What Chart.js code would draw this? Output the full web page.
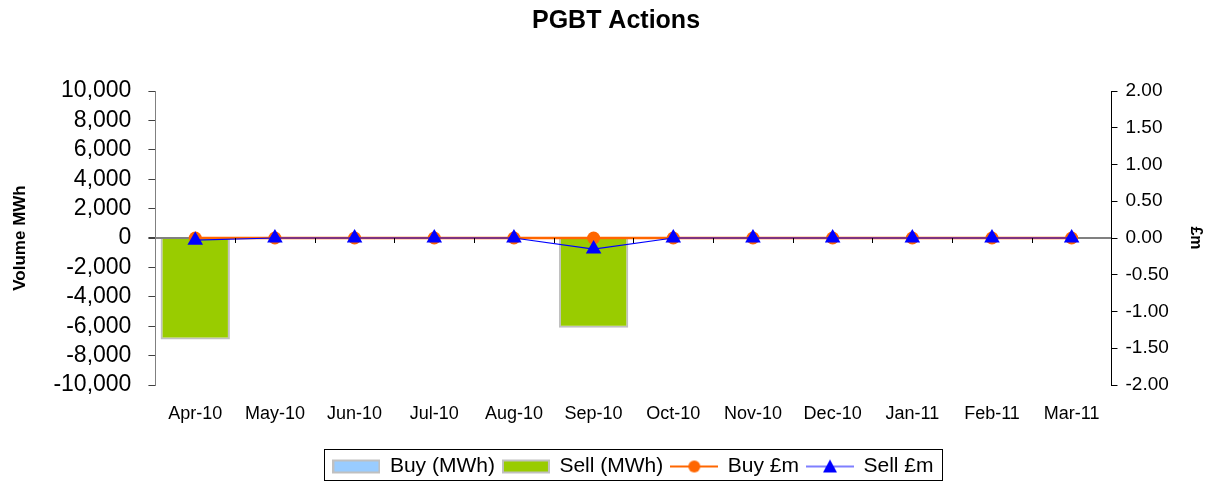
<!DOCTYPE html>
<html>
<head>
<meta charset="utf-8">
<script src="https://cdn.jsdelivr.net/npm/chart.js@4.4.1/dist/chart.umd.min.js"></script>
<style>
  html, body { margin: 0; padding: 0; background: #fff; }
  #wrap { width: 1220px; height: 483px; }
</style>
</head>
<body>
<div id="wrap"><canvas id="c" width="1220" height="483"></canvas></div>
<script>
const categories = ['Apr-10','May-10','Jun-10','Jul-10','Aug-10','Sep-10','Oct-10','Nov-10','Dec-10','Jan-11','Feb-11','Mar-11'];
const buyVolume  = [0, 0, 0, 0, 0, 0, 0, 0, 0, 0, 0, 0];
const sellVolume = [-6900, 0, 0, 0, 0, -6100, 0, 0, 0, 0, 0, 0];
const buyCost    = [0.00, 0.00, 0.00, 0.00, 0.00, 0.00, 0.00, 0.00, 0.00, 0.00, 0.00, 0.00];
const sellCost   = [-0.03, 0.00, 0.00, 0.00, 0.00, -0.15, 0.00, 0.00, 0.00, 0.00, 0.00, 0.00];
const volumeTicks = [-10000, -8000, -6000, -4000, -2000, 0, 2000, 4000, 6000, 8000, 10000];
const costTicks = [-2, -1.5, -1, -0.5, 0, 0.5, 1, 1.5, 2];

const FONT = "'Liberation Sans', Arial, sans-serif";

function legendCanvas(kind) {
  const c = document.createElement('canvas');
  c.width = 48; c.height = 16;
  const g = c.getContext('2d');
  if (kind === 'buyBar' || kind === 'sellBar') {
    g.fillStyle = kind === 'buyBar' ? '#99ccff' : '#99cc00';
    g.fillRect(1, 2, 46, 12);
    g.strokeStyle = '#c0c0c0'; g.lineWidth = 2;
    g.strokeRect(1, 2, 46, 12);
  } else if (kind === 'buyLine') {
    g.strokeStyle = '#ff6600'; g.lineWidth = 2;
    g.beginPath(); g.moveTo(0, 8); g.lineTo(48, 8); g.stroke();
    g.fillStyle = '#ff6600';
    g.beginPath(); g.arc(24, 8, 6, 0, Math.PI * 2); g.fill();
  } else {
    g.strokeStyle = '#0000ff'; g.lineWidth = 1.2;
    g.beginPath(); g.moveTo(0, 8); g.lineTo(48, 8); g.stroke();
    g.fillStyle = '#0000ff';
    g.beginPath(); g.moveTo(24, 1); g.lineTo(31, 14); g.lineTo(17, 14); g.closePath(); g.fill();
  }
  return c;
}

const legendItems = [
  { text: 'Buy (MWh)', kind: 'buyBar', ds: 2 },
  { text: 'Sell (MWh)', kind: 'sellBar', ds: 3 },
  { text: 'Buy £m', kind: 'buyLine', ds: 1 },
  { text: 'Sell £m', kind: 'sellLine', ds: 0 }
];

const extras = {
  id: 'extras',
  afterDatasetsDraw(chart) {
    const x = chart.scales.x, y = chart.scales.y;
    const y0 = y.getPixelForValue(0);
    const ctx = chart.ctx;
    ctx.save();
    ctx.strokeStyle = '#000';
    ctx.lineWidth = 1;
    for (let i = 1; i <= categories.length; i++) {
      const px = i < categories.length
        ? (x.getPixelForValue(i - 1) + x.getPixelForValue(i)) / 2
        : chart.chartArea.right;
      ctx.beginPath();
      ctx.moveTo(Math.round(px) + 0.5, y0);
      ctx.lineTo(Math.round(px) + 0.5, y0 + 5);
      ctx.stroke();
    }
    ctx.restore();
  },
  afterDraw(chart) {
    const hb = chart.legend.legendHitBoxes;
    if (!hb || !hb.length) return;
    let l = Infinity, r = -Infinity, t = Infinity, b = -Infinity;
    hb.forEach(h => { l = Math.min(l, h.left); r = Math.max(r, h.left + h.width); t = Math.min(t, h.top); b = Math.max(b, h.top + h.height); });
    const ctx = chart.ctx;
    ctx.save();
    ctx.strokeStyle = '#000';
    ctx.lineWidth = 1;
    ctx.strokeRect(Math.round(l - 9) + 0.5, Math.round(t - 7) + 0.5, Math.round(r - l + 18), Math.round(b - t + 10));
    ctx.restore();
  }
};

new Chart(document.getElementById('c'), {
  data: {
    labels: categories,
    datasets: [
      {
        type: 'line', label: 'Sell £m', data: sellCost, yAxisID: 'y1', order: 0,
        borderColor: '#0000ff', borderWidth: 1.2, backgroundColor: '#0000ff',
        pointStyle: 'triangle', pointRadius: 9, pointHoverRadius: 9,
        pointBackgroundColor: '#0000ff', pointBorderColor: '#0000ff', pointBorderWidth: 0, tension: 0
      },
      {
        type: 'line', label: 'Buy £m', data: buyCost, yAxisID: 'y1', order: 1,
        borderColor: '#ff6600', borderWidth: 2.5, backgroundColor: '#ff6600',
        pointStyle: 'circle', pointRadius: 6.5, pointHoverRadius: 6.5,
        pointBackgroundColor: '#ff6600', pointBorderColor: '#ff6600', pointBorderWidth: 0, tension: 0
      },
      {
        type: 'bar', label: 'Buy (MWh)', data: buyVolume, yAxisID: 'y', order: 2,
        backgroundColor: '#99ccff', borderColor: '#c0c0c0', borderWidth: 2,
        grouped: false, barPercentage: 0.87, categoryPercentage: 1
      },
      {
        type: 'bar', label: 'Sell (MWh)', data: sellVolume, yAxisID: 'y', order: 3,
        backgroundColor: '#99cc00', borderColor: '#c0c0c0', borderWidth: 2,
        grouped: false, barPercentage: 0.87, categoryPercentage: 1
      }
    ]
  },
  options: {
    responsive: false,
    animation: false,
    devicePixelRatio: 1,
    layout: { padding: { left: 6, right: -6, top: 6, bottom: -4 } },
    plugins: {
      tooltip: { enabled: false },
      title: {
        display: true, text: 'PGBT Actions', color: '#000',
        font: { family: FONT, size: 25, weight: 'bold' },
        padding: { top: 0, bottom: 55 }
      },
      legend: {
        position: 'bottom',
        fullSize: false,
        labels: {
          color: '#000',
          font: { family: FONT, size: 21 },
          usePointStyle: true,
          pointStyleWidth: 46,
          padding: 8,
          generateLabels: () => legendItems.map(it => ({
            text: it.text, pointStyle: legendCanvas(it.kind), fillStyle: 'transparent',
            strokeStyle: 'transparent', lineWidth: 0, hidden: false, datasetIndex: it.ds, fontColor: '#000'
          }))
        },
        onClick: () => {}
      }
    },
    scales: {
      x: {
        offset: true,
        grid: { display: false },
        border: { display: false },
        afterFit: (s) => { s.height = 63; },
        ticks: { color: '#000', font: { family: FONT, size: 18 }, padding: 10, maxRotation: 0, autoSkip: false }
      },
      y: {
        position: 'left',
        min: -10000, max: 10000,
        afterBuildTicks: (s) => { s.ticks = volumeTicks.map(v => ({ value: v })); },
        grid: {
          drawOnChartArea: true,
          color: (c) => (c.tick && c.tick.value === 0) ? '#808080' : 'rgba(0,0,0,0)',
          lineWidth: (c) => (c.tick && c.tick.value === 0) ? 2 : 1,
          tickColor: '#404040', tickLength: 7
        },
        border: { display: true, color: '#808080', width: 1 },
        ticks: {
          color: '#000', font: { family: FONT, size: 23 }, padding: 17, autoSkip: false,
          callback: (v) => Number(v).toLocaleString('en-US')
        },
        title: { display: true, text: 'Volume MWh', color: '#000', font: { family: FONT, size: 17, weight: 'bold' }, padding: { top: 4, bottom: 6 } }
      },
      y1: {
        position: 'right',
        min: -2, max: 2,
        afterBuildTicks: (s) => { s.ticks = costTicks.map(v => ({ value: v })); },
        grid: { drawOnChartArea: false, tickColor: '#000', tickLength: 6 },
        border: { display: true, color: '#000', width: 1 },
        ticks: {
          color: '#000', font: { family: FONT, size: 19 }, padding: 8, autoSkip: false,
          callback: (v) => Number(v).toFixed(2)
        },
        title: { display: true, text: '£m', color: '#000', font: { family: FONT, size: 16, weight: 'bold' }, padding: { top: 21, bottom: 9 } }
      }
    }
  },
  plugins: [extras]
});
</script>
</body>
</html>
